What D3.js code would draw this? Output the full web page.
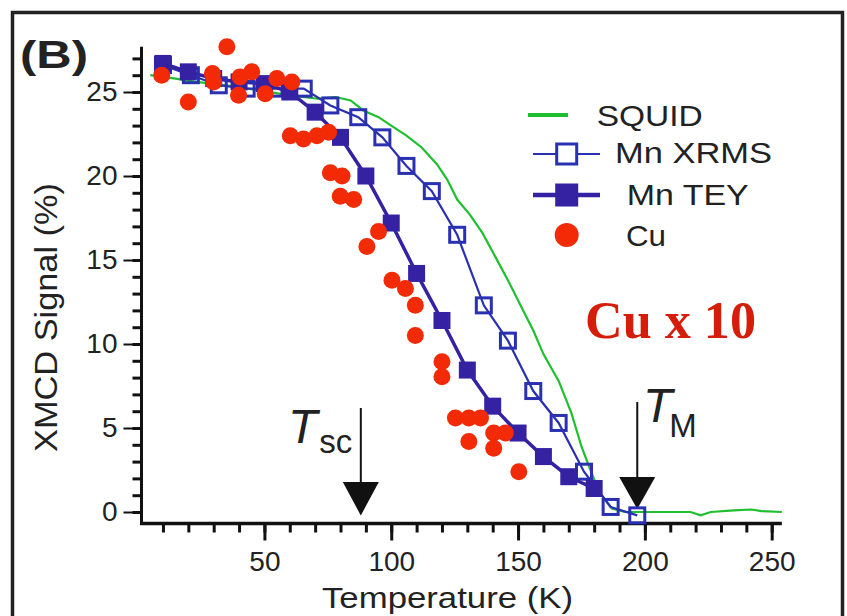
<!DOCTYPE html>
<html><head><meta charset="utf-8">
<script src="https://cdn.jsdelivr.net/npm/d3@7"></script>
<style>
html,body{margin:0;padding:0;background:#fff;}
svg{display:block;font-family:"Liberation Sans",Arial,Helvetica,sans-serif;}
</style></head>
<body>
<script>
// ---- data ----
const squidT = [5, 15, 23, 35, 48, 60, 71, 78, 84, 89, 95, 100, 106, 112, 118, 122, 126, 131, 136, 141, 146, 152, 156, 160, 166, 171, 175, 178, 182, 187, 192, 200, 210, 218, 222, 226, 235, 242, 246, 254];
const squidV = [26.0, 25.8, 25.6, 25.4, 25.1, 24.8, 24.6, 24.7, 24.5, 23.9, 23.5, 23.0, 22.4, 21.7, 20.7, 19.8, 18.6, 17.7, 16.6, 15.2, 13.8, 12.0, 10.8, 9.4, 7.8, 5.9, 3.9, 2.7, 1.2, 0.2, 0.0, 0.0, 0.0, 0.0, -0.2, 0.0, 0.1, 0.15, 0.05, 0.0];

const xrmsT = [10, 21, 32, 43, 54, 65.5, 76, 87, 96.5, 106, 116, 126, 136.5, 146, 156, 166, 176, 186.5, 197];
const xrmsV = [26.6, 26.0, 25.4, 25.2, 25.2, 25.2, 24.2, 23.5, 22.3, 20.6, 19.1, 16.5, 12.3, 10.2, 7.2, 5.3, 2.4, 0.3, -0.2];

const teyT = [10, 20, 30, 40, 50, 60, 70, 80, 90, 100, 110, 120, 130, 140, 150, 160, 170, 180];
const teyV = [26.7, 26.2, 25.8, 25.6, 25.5, 25.0, 23.8, 22.3, 20.0, 17.2, 14.2, 11.4, 8.45, 6.3, 4.7, 3.3, 2.1, 1.4];

const cuT = [9.5, 20.0, 29.5, 30.0, 35.2, 39.8, 40.4, 45.0, 50.3, 54.9, 60.8, 60.2, 65.4, 70.7, 75.3, 76.0, 80.6, 79.9, 85.2, 90.4, 95.0, 100.3, 105.6, 109.5, 109.5, 120.0, 120.0, 125.3, 130.6, 135.2, 130.6, 140.4, 140.4, 145.0, 150.3];
const cuV = [26.0, 24.4, 26.1, 25.6, 27.7, 24.8, 25.9, 26.2, 24.9, 25.8, 25.6, 22.4, 22.2, 22.4, 22.6, 20.2, 20.0, 18.8, 18.6, 15.8, 16.7, 13.8, 13.3, 12.3, 10.5, 8.95, 8.05, 5.6, 5.6, 5.6, 4.2, 4.7, 3.8, 4.7, 2.4];

const xMajor = [50, 100, 150, 200, 250];
const xMinor = d3.range(10, 251, 10);
const yMajor = [0, 5, 10, 15, 20, 25];
const yMinor = d3.range(0, 28, 1);

const markerT = [88, 197];        // T_sc, T_M
const legendNames = ["SQUID", "Mn XRMS", "Mn TEY", "Cu"];

// ---- colours ----
const cGreen = "#1fbf2f", cXrms = "#2a30b2", cTey = "#3422a3", cRed = "#f22a05";

const W = 847, H = 616;
const svg = d3.select("body").append("svg").attr("width", W).attr("height", H);

const x = d3.scaleLinear().domain([0, 250]).range([137.6, 771.7]);
const y = d3.scaleLinear().domain([0, 25]).range([512, 92]);

// frame
svg.append("path").attr("d", "M12.5,640 L12.5,12.5 L842.5,12.5 L842.5,640")
  .attr("fill", "none").attr("stroke", "#222").attr("stroke-width", 3.5);

// panel label
svg.append("text").attr("x", 20).attr("y", 68).attr("font-size", 39).attr("font-weight", "bold")
  .attr("textLength", 68).attr("lengthAdjust", "spacingAndGlyphs").attr("fill", "#222").text("(B)");

const axX = 141.5, axY = 523.5;

// y axis ticks
const gy = svg.append("g").attr("transform", `translate(${axX},0)`);
gy.call(d3.axisLeft(y).tickValues(yMinor).tickSize(9).tickFormat(""))
  .call(g => g.select(".domain").remove())
  .call(g => g.selectAll("line").attr("stroke", "#111").attr("stroke-width", 3));
const gy2 = svg.append("g").attr("transform", `translate(${axX},0)`);
gy2.call(d3.axisLeft(y).tickValues(yMajor).tickSize(18).tickPadding(6))
  .call(g => g.select(".domain").remove())
  .call(g => g.selectAll("line").attr("stroke", "#111").attr("stroke-width", 2))
  .call(g => g.selectAll("text").attr("font-size", 28).attr("fill", "#222")
     .attr("font-family", "'Liberation Sans',Arial,sans-serif"));

// x axis ticks
const gx = svg.append("g").attr("transform", `translate(0,${axY})`);
gx.call(d3.axisBottom(x).tickValues(xMinor).tickSize(9).tickFormat(""))
  .call(g => g.select(".domain").remove())
  .call(g => g.selectAll("line").attr("stroke", "#111").attr("stroke-width", 3));
const gx2 = svg.append("g").attr("transform", `translate(0,${axY})`);
gx2.call(d3.axisBottom(x).tickValues(xMajor).tickSize(17).tickPadding(11))
  .call(g => g.select(".domain").remove())
  .call(g => g.selectAll("line").attr("stroke", "#111").attr("stroke-width", 3))
  .call(g => g.selectAll("text").attr("font-size", 28).attr("fill", "#222")
     .attr("font-family", "'Liberation Sans',Arial,sans-serif"));

// axis lines
svg.append("line").attr("x1", axX).attr("x2", axX).attr("y1", y(27.7)).attr("y2", axY + 1.5)
  .attr("stroke", "#111").attr("stroke-width", 3);
svg.append("line").attr("x1", axX - 1.5).attr("x2", x(254)).attr("y1", axY).attr("y2", axY)
  .attr("stroke", "#111").attr("stroke-width", 3.5);

// axis titles
svg.append("text").attr("transform", "translate(57,317.5) rotate(-90)").attr("text-anchor", "middle")
  .attr("font-size", 32).attr("fill", "#222").attr("textLength", 269).attr("lengthAdjust", "spacingAndGlyphs")
  .text("XMCD Signal (%)");
svg.append("text").attr("x", 447.5).attr("y", 608).attr("text-anchor", "middle")
  .attr("font-size", 30).attr("fill", "#222").attr("textLength", 251).attr("lengthAdjust", "spacingAndGlyphs")
  .text("Temperature (K)");

// arrows (T_sc, T_M)
const arrowTop = [408, 402];
const triTop = [482, 477];
const triTip = [515.5, 509];
markerT.forEach((t, i) => {
  const cx = x(t);
  svg.append("line").attr("x1", cx).attr("x2", cx).attr("y1", arrowTop[i]).attr("y2", triTop[i] + 2)
    .attr("stroke", "#111").attr("stroke-width", 2);
  svg.append("path").attr("d", `M${cx - 18},${triTop[i]} L${cx + 18},${triTop[i]} L${cx},${triTip[i]} Z`)
    .attr("fill", "#111");
});
// labels T_sc, T_M
const tsc = svg.append("text").attr("x", 288).attr("y", 443).attr("fill", "#222");
tsc.append("tspan").attr("font-size", 48).attr("font-style", "italic").text("T");
tsc.append("tspan").attr("font-size", 33).attr("dy", 10).attr("dx", 2).text("sc");
const tm = svg.append("text").attr("x", 643).attr("y", 422).attr("fill", "#222");
tm.append("tspan").attr("font-size", 48).attr("font-style", "italic").text("T");
tm.append("tspan").attr("font-size", 33).attr("dy", 14.5).attr("dx", -3).text("M");

// SQUID line
const squid = squidT.map((t, i) => [t, squidV[i]]);
svg.append("path").datum(squid)
  .attr("d", d3.line().x(d => x(d[0])).y(d => y(d[1])))
  .attr("fill", "none").attr("stroke", cGreen).attr("stroke-width", 2.2);

// XRMS
const xrms = xrmsT.map((t, i) => [t, xrmsV[i]]);
svg.append("path").datum(xrms)
  .attr("d", d3.line().x(d => x(d[0])).y(d => y(d[1])))
  .attr("fill", "none").attr("stroke", cXrms).attr("stroke-width", 2.2);

// TEY
const tey = teyT.map((t, i) => [t, teyV[i]]);
svg.append("path").datum(tey)
  .attr("d", d3.line().x(d => x(d[0])).y(d => y(d[1])))
  .attr("fill", "none").attr("stroke", cTey).attr("stroke-width", 3.5);

svg.append("g").selectAll("rect").data(xrms).join("rect")
  .attr("x", d => x(d[0]) - 7.5).attr("y", d => y(d[1]) - 7.5)
  .attr("width", 15).attr("height", 15)
  .attr("fill", "none").attr("stroke", cXrms).attr("stroke-width", 3);

svg.append("g").selectAll("rect").data(tey).join("rect")
  .attr("x", d => x(d[0]) - 8.5).attr("y", d => y(d[1]) - 8.5)
  .attr("width", 17).attr("height", 17).attr("fill", cTey);

// Cu
const cu = cuT.map((t, i) => [t, cuV[i]]);
svg.append("g").selectAll("circle").data(cu).join("circle")
  .attr("cx", d => x(d[0])).attr("cy", d => y(d[1])).attr("r", 8.5).attr("fill", cRed);

// Cu x 10
svg.append("text").attr("x", 585).attr("y", 338).attr("font-family", "'Liberation Serif','Times New Roman',serif")
  .attr("font-weight", "bold").attr("font-size", 53).attr("fill", "#d41e0a")
  .attr("textLength", 171).attr("lengthAdjust", "spacingAndGlyphs").text("Cu x 10");

// legend
const lg = svg.append("g");
lg.append("line").attr("x1", 528).attr("x2", 568).attr("y1", 115).attr("y2", 115)
  .attr("stroke", cGreen).attr("stroke-width", 4);
lg.append("line").attr("x1", 533).attr("x2", 600).attr("y1", 154).attr("y2", 154)
  .attr("stroke", cXrms).attr("stroke-width", 2.2);
lg.append("rect").attr("x", 566.7 - 10).attr("y", 154 - 10).attr("width", 20).attr("height", 20)
  .attr("fill", "#fff").attr("stroke", cXrms).attr("stroke-width", 3);
lg.append("line").attr("x1", 566.7).attr("x2", 566.7).attr("y1", 144).attr("y2", 164)
  .attr("stroke", "none");
lg.append("line").attr("x1", 533).attr("x2", 600).attr("y1", 195).attr("y2", 195)
  .attr("stroke", cTey).attr("stroke-width", 4.5);
lg.append("rect").attr("x", 566.7 - 11.5).attr("y", 195 - 11.5).attr("width", 23).attr("height", 23)
  .attr("fill", cTey);
lg.append("circle").attr("cx", 566.7).attr("cy", 235).attr("r", 12).attr("fill", cRed);

const legX = [596.7, 615, 626.7, 626];
const legY = [125.5, 163.3, 205, 245.7];
const legL = [106, 157, 122, 40];
legendNames.forEach((n, i) => {
  lg.append("text").attr("x", legX[i]).attr("y", legY[i]).attr("font-size", 29).attr("fill", "#222")
    .attr("textLength", legL[i]).attr("lengthAdjust", "spacingAndGlyphs").text(n);
});
</script>
</body></html>
